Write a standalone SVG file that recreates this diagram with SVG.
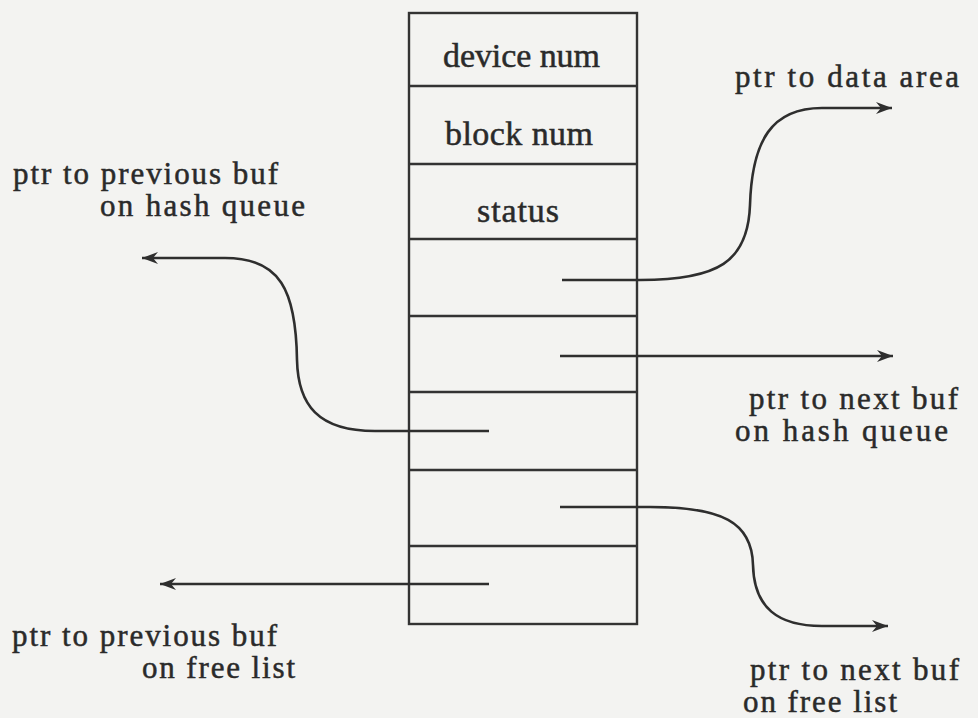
<svg xmlns="http://www.w3.org/2000/svg" width="978" height="718" viewBox="0 0 978 718">
  <defs>
    <marker id="arrow" markerUnits="userSpaceOnUse" markerWidth="18" markerHeight="14" refX="16" refY="7" orient="auto">
      <path d="M0,1 L16,7 L0,13 L5,7 z" fill="#2e2e2e"/>
    </marker>
    <style>
      .bg { fill: #f3f3f1; }
      .box { fill: none; stroke: #333; stroke-width: 2.4; }
      .div { stroke: #333; stroke-width: 2.4; }
      .conn { fill: none; stroke: #2e2e2e; stroke-width: 2.6; }
      .arr { marker-end: url(#arrow); }
      text { font-family: "Liberation Serif", "Times New Roman", serif; font-size: 34px; fill: #2a2a2a; stroke: #2a2a2a; stroke-width: 0.5; }
      .out { font-size: 31px; }
    </style>
  </defs>
  <rect class="bg" x="0" y="0" width="978" height="718"/>

  <g id="buffer-header">
    <rect class="box" x="409" y="13" width="228" height="611"/>
    <line class="div" x1="409" y1="86" x2="637" y2="86"/>
    <line class="div" x1="409" y1="164" x2="637" y2="164"/>
    <line class="div" x1="409" y1="239" x2="637" y2="239"/>
    <line class="div" x1="409" y1="316" x2="637" y2="316"/>
    <line class="div" x1="409" y1="392" x2="637" y2="392"/>
    <line class="div" x1="409" y1="470" x2="637" y2="470"/>
    <line class="div" x1="409" y1="546" x2="637" y2="546"/>
    <text x="443" y="67" textLength="157" lengthAdjust="spacing">device num</text>
    <text x="445" y="145" textLength="148" lengthAdjust="spacing">block num</text>
    <text x="477" y="222" textLength="82" lengthAdjust="spacing">status</text>
  </g>

  <g id="connectors">
    <path class="conn arr" d="M562,280 L640,280 C718,280 748,262 750,205 C752,140 772,108 822,108 L892,108"/>
    <path class="conn arr" d="M489,431 L375,431 C318,431 298,405 297,360 C296,290 280,258 225,258 L142,258"/>
    <path class="conn arr" d="M560,356 L893,356"/>
    <path class="conn arr" d="M489,584 L160,584"/>
    <path class="conn arr" d="M560,507 L650,507 C722,507 752,522 753,565 C754,608 778,626 822,626 L888,626"/>
  </g>

  <g id="label-data-area">
    <text class="out" x="735" y="87" textLength="224" lengthAdjust="spacing">ptr to data area</text>
  </g>
  <g id="label-prev-hash">
    <text class="out" x="13" y="184" textLength="265" lengthAdjust="spacing">ptr to previous buf</text>
    <text class="out" x="100" y="216" textLength="205" lengthAdjust="spacing">on hash queue</text>
  </g>
  <g id="label-next-hash">
    <text class="out" x="749" y="409" textLength="209" lengthAdjust="spacing">ptr to next buf</text>
    <text class="out" x="735" y="441" textLength="213" lengthAdjust="spacing">on hash queue</text>
  </g>
  <g id="label-prev-free">
    <text class="out" x="12" y="646" textLength="265" lengthAdjust="spacing">ptr to previous buf</text>
    <text class="out" x="142" y="678" textLength="153" lengthAdjust="spacing">on free list</text>
  </g>
  <g id="label-next-free">
    <text class="out" x="750" y="680" textLength="209" lengthAdjust="spacing">ptr to next buf</text>
    <text class="out" x="743" y="712" textLength="154" lengthAdjust="spacing">on free list</text>
  </g>
</svg>
